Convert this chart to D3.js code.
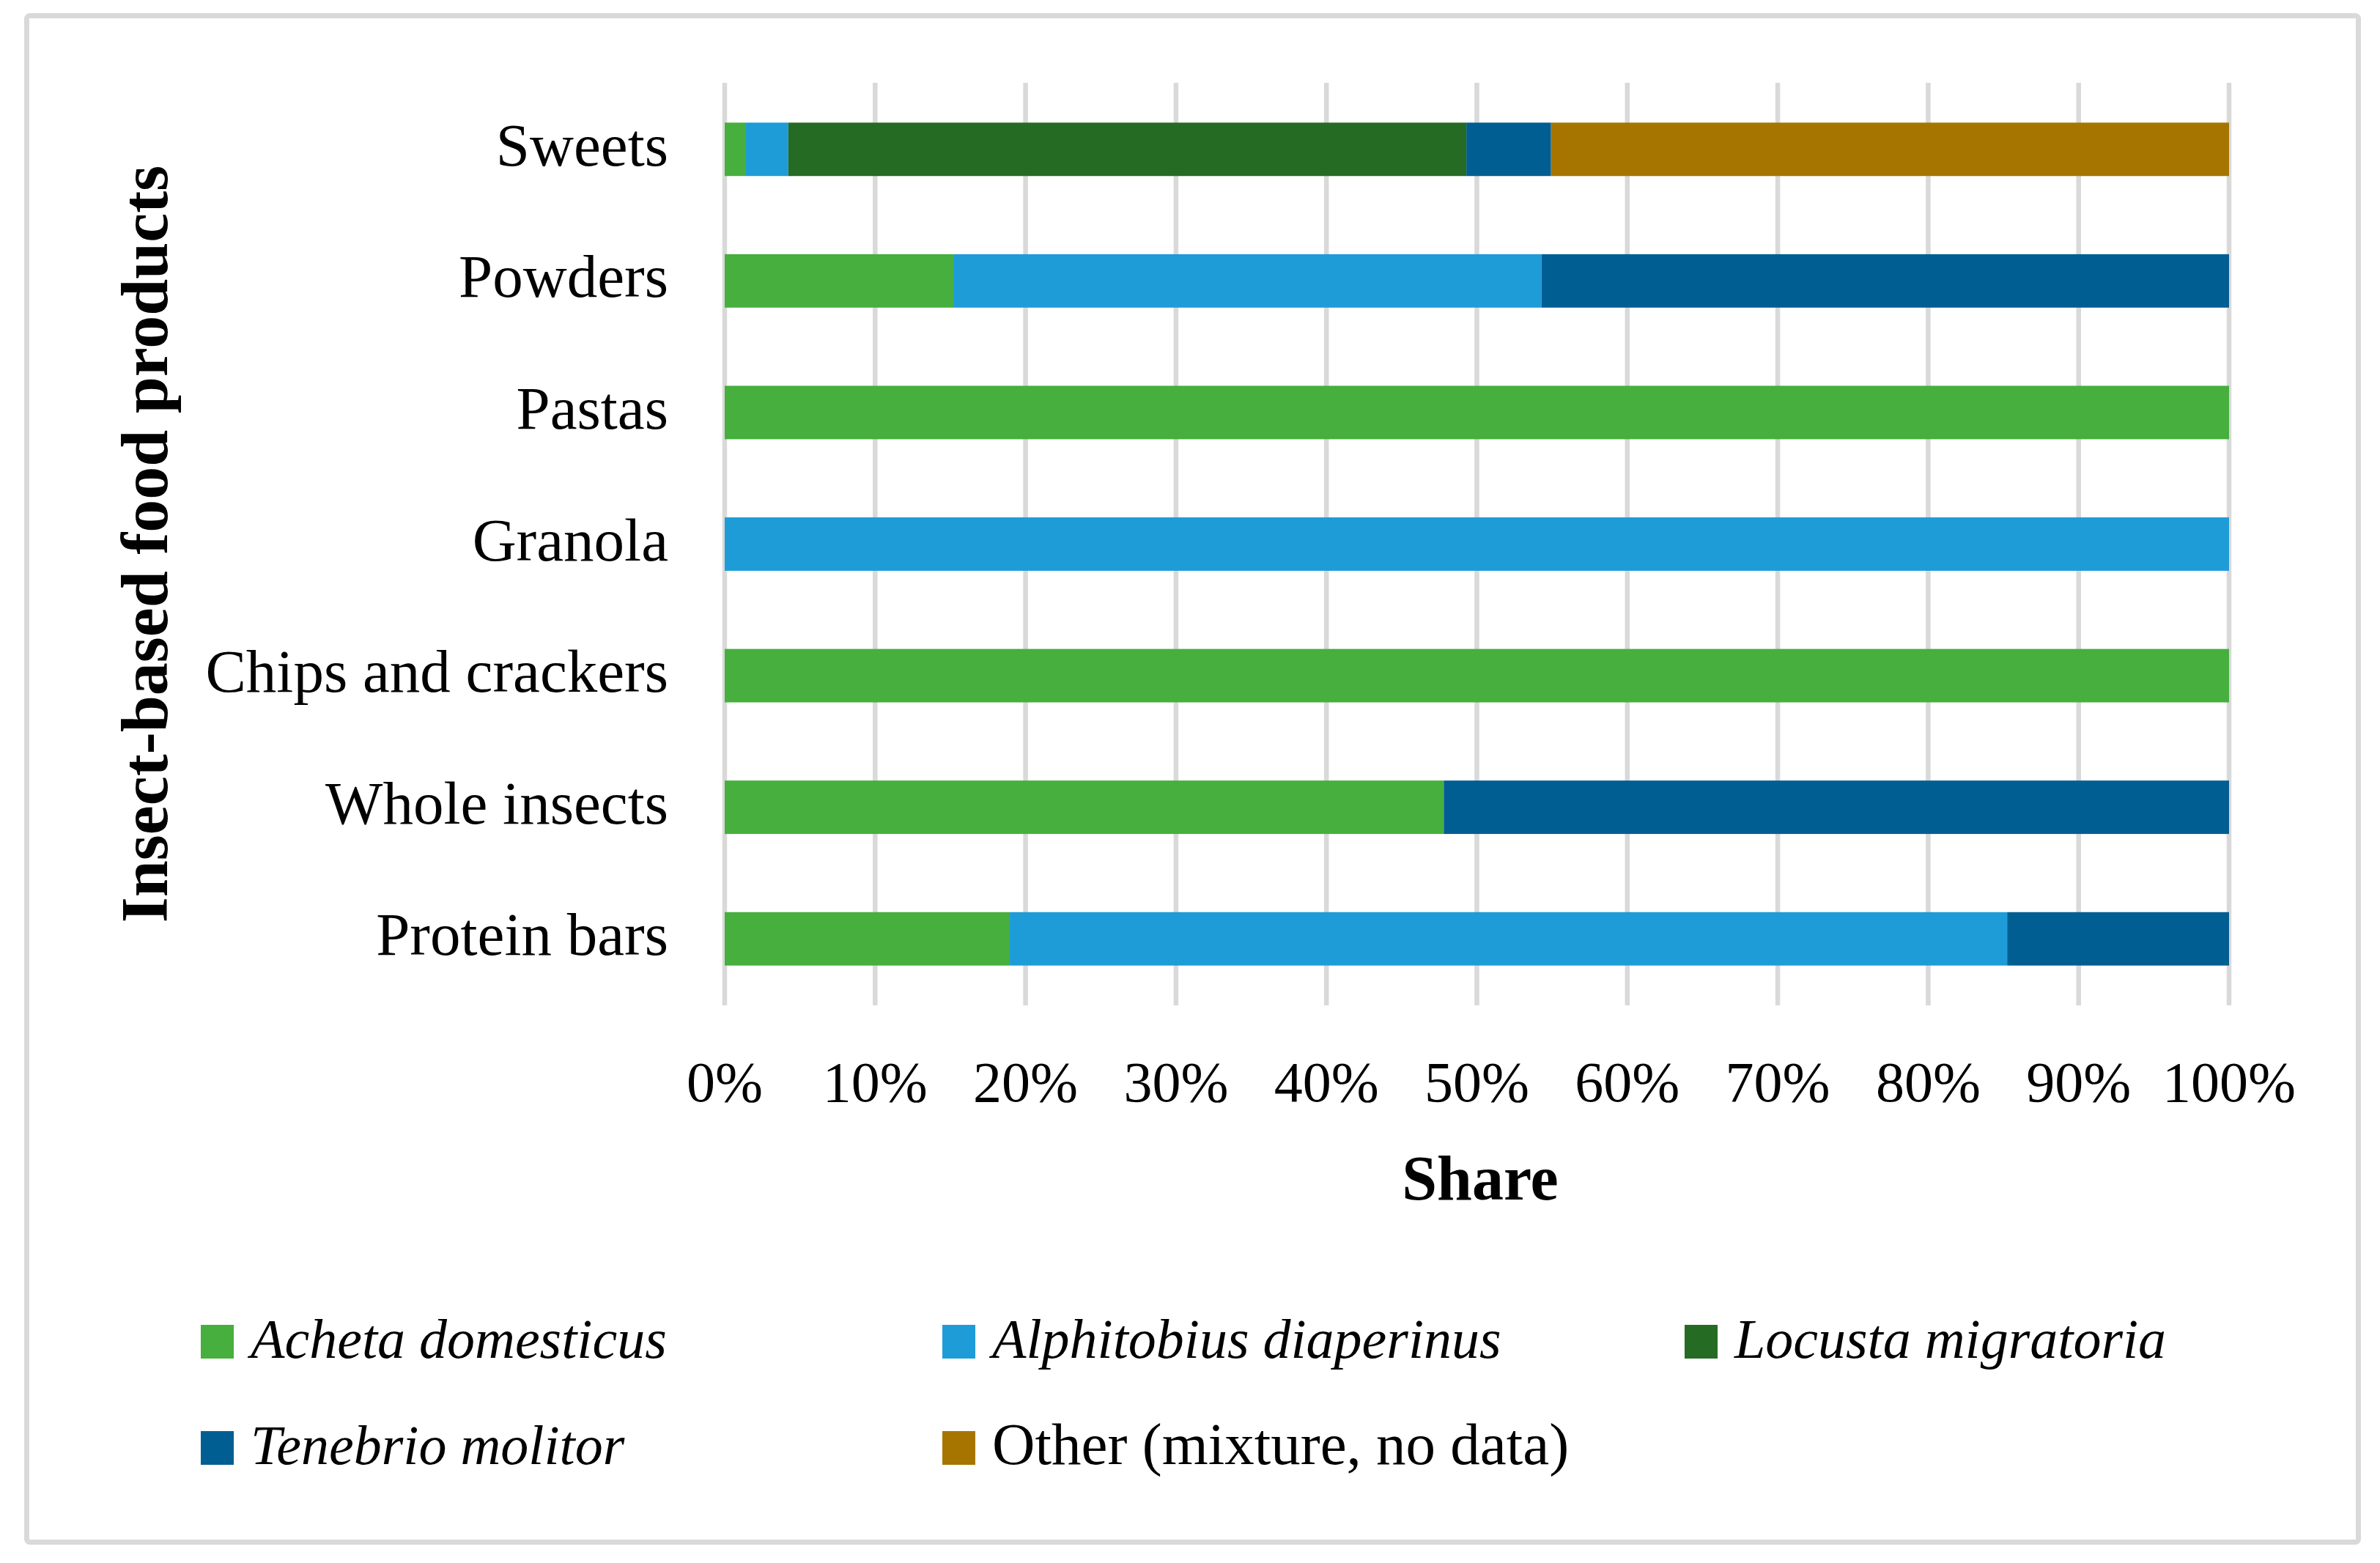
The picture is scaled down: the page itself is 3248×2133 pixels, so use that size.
<!DOCTYPE html>
<html>
<head>
<meta charset="utf-8">
<script src="https://cdn.jsdelivr.net/npm/d3@7"></script>
<style>
  html, body { margin: 0; padding: 0; background: #ffffff; }
  svg { display: block; }
  text { font-family: 'Liberation Serif', 'Times New Roman', serif; fill: #000; }
</style>
</head>
<body>
<svg id="chart" width="3248" height="2133"></svg>
<script>
// ---- data ----
const categories = ["Sweets", "Powders", "Pastas", "Granola", "Chips and crackers", "Whole insects", "Protein bars"];
const seriesNames = ["Acheta domesticus", "Alphitobius diaperinus", "Locusta migratoria", "Tenebrio molitor", "Other (mixture, no data)"];
const seriesItalic = [true, true, true, true, false];
const seriesColors = ["#46AF3D", "#1E9CD8", "#266B24", "#015E93", "#A67500"];
// shares in % per category (same order as categories)
const achetaDomesticus      = [1.41, 15.2, 100, 0,   100, 47.8, 18.95];
const alphitobiusDiaperinus = [2.82, 39.1, 0,   100, 0,   0,    66.3];
const locustaMigratoria     = [45.07, 0,   0,   0,   0,   0,    0];
const tenebrioMolitor       = [5.63, 45.7, 0,   0,   0,   52.2, 14.75];
const otherMixture          = [45.07, 0,   0,   0,   0,   0,    0];
const tickValues = [0, 10, 20, 30, 40, 50, 60, 70, 80, 90, 100];
const xTitle = "Share";
const yTitle = "Insect-based food products";

const seriesValues = [achetaDomesticus, alphitobiusDiaperinus, locustaMigratoria, tenebrioMolitor, otherMixture];

const rows = categories.map((c, i) => {
  const r = { category: c };
  seriesNames.forEach((s, j) => { r[s] = seriesValues[j][i]; });
  return r;
});

const svg = d3.select("#chart");

// chart border
svg.append("rect")
  .attr("x", 36.5).attr("y", 21.5)
  .attr("width", 3182).attr("height", 2083)
  .attr("rx", 4)
  .attr("fill", "#fff")
  .attr("stroke", "#D9D9D9")
  .attr("stroke-width", 7);

const plot = { left: 989, right: 3042, top: 114, bottom: 1371 };

const x = d3.scaleLinear().domain([0, 100]).range([plot.left, plot.right]);
const y = d3.scaleBand().domain(categories).range([plot.top, plot.bottom])
  .paddingInner(0.594).paddingOuter(0.297);

// gridlines
svg.append("g").selectAll("line")
  .data(tickValues)
  .join("line")
  .attr("x1", d => x(d)).attr("x2", d => x(d))
  .attr("y1", plot.top - 1).attr("y2", plot.bottom + 1)
  .attr("stroke", "#D9D9D9")
  .attr("stroke-width", 6.5);

// stacked bars
const stack = d3.stack().keys(seriesNames);
const stacked = stack(rows);

svg.append("g").selectAll("g")
  .data(stacked)
  .join("g")
  .attr("fill", (d, i) => seriesColors[i])
  .selectAll("rect")
  .data(d => d.filter(p => p[1] - p[0] > 0))
  .join("rect")
  .attr("x", d => x(d[0]))
  .attr("width", d => x(d[1]) - x(d[0]))
  .attr("y", d => y(d.data.category))
  .attr("height", y.bandwidth());

// category labels
svg.append("g").selectAll("text")
  .data(categories)
  .join("text")
  .attr("x", 912)
  .attr("y", d => y(d) + y.bandwidth() / 2 + 22)
  .attr("text-anchor", "end")
  .attr("font-size", 83)
  .text(d => d);

// x tick labels
svg.append("g").selectAll("text")
  .data(tickValues)
  .join("text")
  .attr("x", d => x(d))
  .attr("y", 1503)
  .attr("text-anchor", "middle")
  .attr("font-size", 78)
  .text(d => d + "%");

// axis titles
svg.append("text")
  .attr("x", 2020).attr("y", 1637)
  .attr("text-anchor", "middle")
  .attr("font-size", 86)
  .attr("font-weight", "bold")
  .text(xTitle);

svg.append("text")
  .attr("transform", "translate(228," + ((plot.top + plot.bottom) / 2) + ") rotate(-90)")
  .attr("text-anchor", "middle")
  .attr("font-size", 90)
  .attr("font-weight", "bold")
  .text(yTitle);

// legend
const legendPos = [
  { x: 274, y: 1808 }, { x: 1286, y: 1808 }, { x: 2299, y: 1808 },
  { x: 274, y: 1953 }, { x: 1286, y: 1953 }
];
const lg = svg.append("g").selectAll("g")
  .data(seriesNames)
  .join("g")
  .attr("transform", (d, i) => "translate(" + legendPos[i].x + "," + legendPos[i].y + ")");
lg.append("rect")
  .attr("width", 45).attr("height", 46)
  .attr("fill", (d, i) => seriesColors[i]);
lg.append("text")
  .attr("x", 68).attr("y", 45)
  .attr("font-size", (d, i) => seriesItalic[i] ? 76 : 81)
  .attr("font-style", (d, i) => seriesItalic[i] ? "italic" : "normal")
  .text(d => d);
</script>
</body>
</html>
